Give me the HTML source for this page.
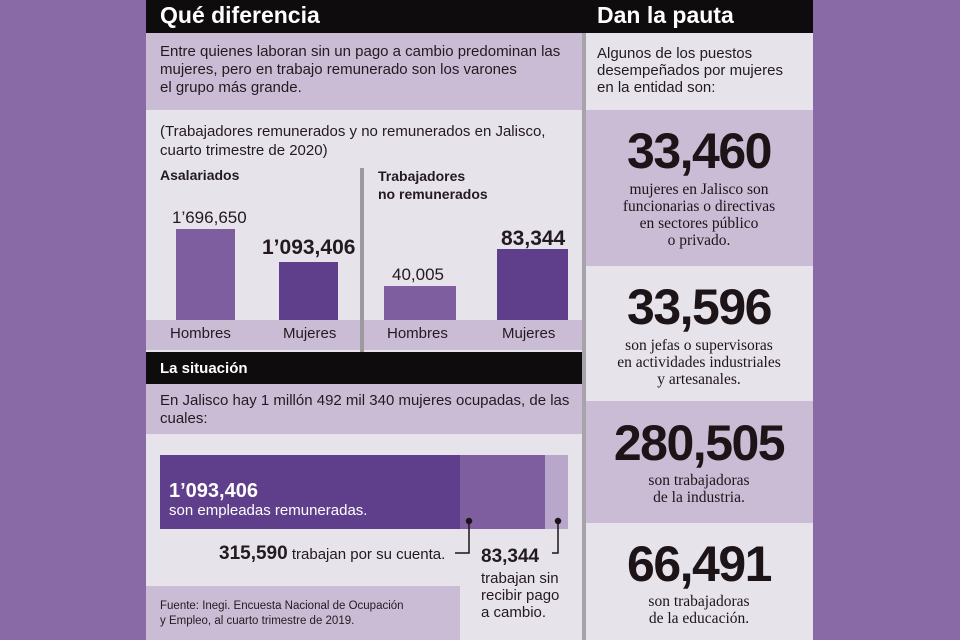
<!DOCTYPE html>
<html><head><meta charset="utf-8"><style>
*{margin:0;padding:0;box-sizing:border-box}
body{width:960px;height:640px;background:#8a6aa6;position:relative;overflow:hidden;font-family:"Liberation Sans",sans-serif;color:#231a1f}
.a{position:absolute}
.hd{background:#0e0c0d;color:#fff;font-weight:bold}
.t{font-size:15px;line-height:18px;white-space:nowrap}
.num{font-weight:bold;color:#1d1418;text-align:center;width:228px;left:585px;font-size:50px;letter-spacing:-1.5px;line-height:50px}
.ser{font-family:"Liberation Serif",serif;text-align:center;width:228px;left:585px;font-size:15.5px;line-height:17px;color:#1d1418}
</style></head><body>
<div class="a" style="left:146px;top:0;width:436px;height:640px;background:#e7e3eb"></div>
<div class="a hd" style="left:146px;top:0;width:667px;height:33px"></div>
<div class="a" style="left:160px;top:2px;color:#fff;font-weight:bold;font-size:23px">Qué diferencia</div>
<div class="a" style="left:146px;top:33px;width:436px;height:77px;background:#cbbcd6"></div>
<div class="a t" style="left:160px;top:43px">Entre quienes laboran sin un pago a cambio predominan las<br>mujeres, pero en trabajo remunerado son los varones<br>el grupo más grande.</div>
<div class="a t" style="left:160px;top:122px;line-height:19px">(Trabajadores remunerados y no remunerados en Jalisco,<br>cuarto trimestre de 2020)</div>
<div class="a" style="left:160px;top:167px;font-weight:bold;font-size:14px">Asalariados</div>
<div class="a" style="left:378px;top:167px;font-weight:bold;font-size:14px;line-height:18px">Trabajadores<br>no remunerados</div>
<div class="a" style="left:146px;top:320px;width:436px;height:30px;background:#cbbcd6"></div>
<div class="a" style="left:360px;top:168px;width:4px;height:184px;background:#9d9a9f"></div>
<div class="a" style="left:176px;top:229px;width:59px;height:91px;background:#7f5ea0"></div>
<div class="a" style="left:279px;top:262px;width:59px;height:58px;background:#5f3f8b"></div>
<div class="a" style="left:384px;top:286px;width:72px;height:34px;background:#7f5ea0"></div>
<div class="a" style="left:497px;top:249px;width:71px;height:71px;background:#5f3f8b"></div>
<div class="a" style="left:172px;top:208px;font-size:17px">1’696,650</div>
<div class="a" style="left:262px;top:236px;font-size:21px;font-weight:bold">1’093,406</div>
<div class="a" style="left:392px;top:265px;font-size:17px">40,005</div>
<div class="a" style="left:501px;top:227px;font-size:21px;font-weight:bold">83,344</div>
<div class="a t" style="left:170px;top:325px">Hombres</div>
<div class="a t" style="left:283px;top:325px">Mujeres</div>
<div class="a t" style="left:387px;top:325px">Hombres</div>
<div class="a t" style="left:502px;top:325px">Mujeres</div>
<div class="a hd" style="left:146px;top:352px;width:436px;height:32px"></div>
<div class="a" style="left:160px;top:360px;color:#fff;font-weight:bold;font-size:15px">La situación</div>
<div class="a" style="left:146px;top:384px;width:436px;height:50px;background:#cbbcd6"></div>
<div class="a t" style="left:160px;top:392px">En Jalisco hay 1 millón 492 mil 340 mujeres ocupadas, de las<br>cuales:</div>
<div class="a" style="left:160px;top:455px;width:300px;height:74px;background:#5f3f8b"></div>
<div class="a" style="left:460px;top:455px;width:85px;height:74px;background:#7f5ea0"></div>
<div class="a" style="left:545px;top:455px;width:23px;height:74px;background:#b9a6cb"></div>
<div class="a" style="left:169px;top:480px;color:#fff;font-weight:bold;font-size:20px">1’093,406</div>
<div class="a" style="left:169px;top:502px;color:#fff;font-size:15px">son empleadas remuneradas.</div>
<svg class="a" style="left:0;top:0" width="960" height="640"><g stroke="#1d1418" stroke-width="1.5" fill="#1d1418"><circle cx="469" cy="521" r="2.5"/><circle cx="558" cy="521" r="2.5"/><polyline fill="none" points="469,521 469,553 455,553"/><polyline fill="none" points="558,521 558,553 552,553"/></g></svg>
<div class="a" style="left:219px;top:543px;font-size:15px;white-space:nowrap"><b style="font-size:19px">315,590</b> trabajan por su cuenta.</div>
<div class="a" style="left:481px;top:546px;font-size:19px;font-weight:bold">83,344</div>
<div class="a t" style="left:481px;top:570px;line-height:17px">trabajan sin<br>recibir pago<br>a cambio.</div>
<div class="a" style="left:146px;top:586px;width:314px;height:54px;background:#cbbcd6"></div>
<div class="a" style="left:160px;top:599px;font-size:11.5px;line-height:15px">Fuente: Inegi. Encuesta Nacional de Ocupación<br>y Empleo, al cuarto trimestre de 2019.</div>
<div class="a" style="left:582px;top:33px;width:4px;height:607px;background:#a7a3aa"></div>
<div class="a" style="left:586px;top:33px;width:227px;height:607px;background:#e7e3eb"></div>
<div class="a" style="left:597px;top:2px;color:#fff;font-weight:bold;font-size:23px">Dan la pauta</div>
<div class="a t" style="left:597px;top:45px;line-height:17px">Algunos de los puestos<br>desempeñados por mujeres<br>en la entidad son:</div>
<div class="a" style="left:586px;top:110px;width:227px;height:156px;background:#cbbcd6"></div>
<div class="a" style="left:586px;top:401px;width:227px;height:122px;background:#cbbcd6"></div>
<div class="a num" style="top:126px">33,460</div>
<div class="a ser" style="top:181px">mujeres en Jalisco son<br>funcionarias o directivas<br>en sectores público<br>o privado.</div>
<div class="a num" style="top:282px">33,596</div>
<div class="a ser" style="top:337px">son jefas o supervisoras<br>en actividades industriales<br>y artesanales.</div>
<div class="a num" style="top:418px">280,505</div>
<div class="a ser" style="top:472px">son trabajadoras<br>de la industria.</div>
<div class="a num" style="top:539px">66,491</div>
<div class="a ser" style="top:593px">son trabajadoras<br>de la educación.</div>
</body></html>
